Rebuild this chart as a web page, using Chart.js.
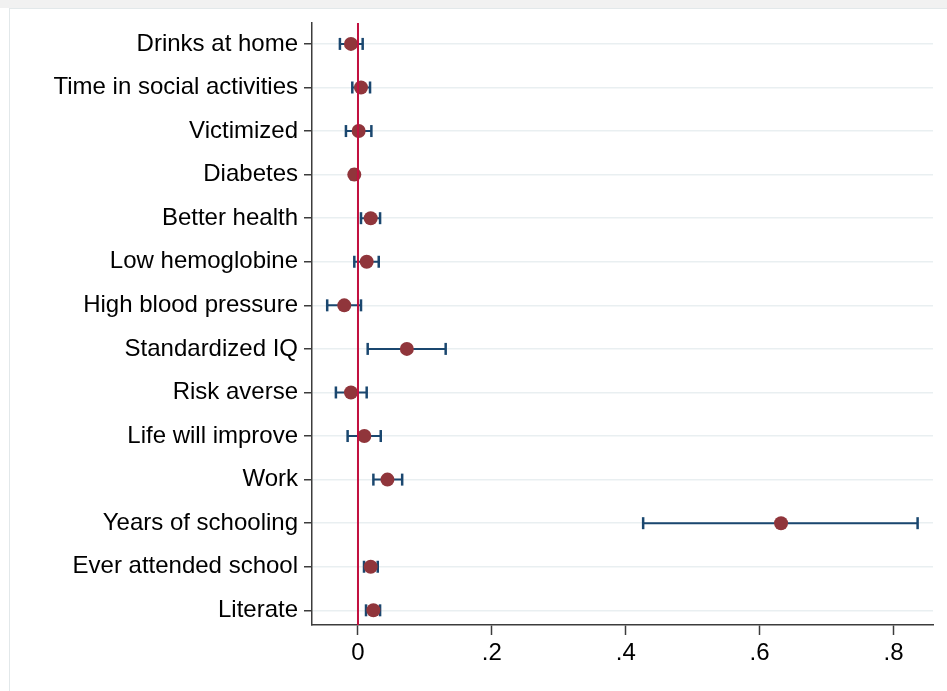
<!DOCTYPE html>
<html>
<head>
<meta charset="utf-8">
<script src="https://cdn.jsdelivr.net/npm/chart.js@4.4.1/dist/chart.umd.min.js"></script>
<style>
  html, body { margin: 0; padding: 0; background: #fff; }
  body { width: 947px; height: 691px; position: relative; overflow: hidden; }
  #strip { position: absolute; left: 0; top: 0; width: 947px; height: 8px; background: #f1f1f1; }
  #frame { position: absolute; left: 9px; top: 8px; width: 960px; height: 700px; border: 1px solid #e2e8ea; box-sizing: border-box; }
  #wrap { position: absolute; left: 0; top: 0; width: 947px; height: 691px; }
</style>
</head>
<body>
<div id="strip"></div>
<div id="frame"></div>
<div id="wrap"><canvas id="coefChart"></canvas></div>
<script>
// outcomes, top to bottom
const outcomes = [
  'Drinks at home', 'Time in social activities', 'Victimized', 'Diabetes',
  'Better health', 'Low hemoglobine', 'High blood pressure', 'Standardized IQ',
  'Risk averse', 'Life will improve', 'Work', 'Years of schooling',
  'Ever attended school', 'Literate'
];
// point estimates and 95% confidence bounds
const estimates = [-0.0105, 0.0045, 0.001, -0.0055, 0.019, 0.013, -0.0205, 0.073, -0.0105, 0.0095, 0.044, 0.632, 0.019, 0.023];
const lower     = [-0.027, -0.0085, -0.018, -0.010, 0.0045, -0.0055, -0.046, 0.0145, -0.033, -0.0155, 0.023, 0.426, 0.009, 0.012];
const upper     = [0.007, 0.018, 0.020, -0.001, 0.033, 0.031, 0.0045, 0.131, 0.013, 0.034, 0.066, 0.836, 0.0295, 0.033];
const xTicks = [0, 0.2, 0.4, 0.6, 0.8];

const xMin = -0.0687, xMax = 0.859;
const yMin = -0.48, yMax = 13.337;

const navy = '#1a476f';
const maroon = '#90353b';
const axisColor = '#3c3c3c';
const font = { family: 'Liberation Sans, Arial, sans-serif', size: 24 };

// CI segments, broken by a gap point after each row
const ciPoints = [];
outcomes.forEach((_, i) => {
  ciPoints.push({ x: lower[i], y: i }, { x: upper[i], y: i }, { x: null, y: null });
});

new Chart(document.getElementById('coefChart'), {
  type: 'scatter',
  data: {
    datasets: [
      {
        label: '95% CI',
        data: ciPoints,
        showLine: true,
        borderColor: navy,
        borderWidth: 2,
        pointStyle: 'line',
        rotation: 90,
        pointRadius: 6,
        pointBorderWidth: 2.5,
        pointBorderColor: navy,
        order: 3
      },
      {
        label: 'Estimate',
        data: outcomes.map((_, i) => ({ x: estimates[i], y: i })),
        backgroundColor: maroon,
        borderColor: maroon,
        pointRadius: 7,
        pointBorderWidth: 0,
        order: 2
      },
      {
        label: 'zero',
        data: [{ x: 0, y: yMin }, { x: 0, y: yMax }],
        showLine: true,
        borderColor: '#c2103f',
        borderWidth: 2,
        pointRadius: 0,
        order: 1
      }
    ]
  },
  options: {
    responsive: true,
    maintainAspectRatio: false,
    animation: false,
    layout: { padding: { left: 10, top: 23, right: 14, bottom: 10 } },
    scales: {
      x: {
        type: 'linear',
        min: xMin,
        max: xMax,
        afterBuildTicks: axis => { axis.ticks = xTicks.map(v => ({ value: v })); },
        afterFit: scale => { scale.height = 56; },
        ticks: {
          font: font,
          color: '#000',
          padding: 4,
          maxRotation: 0,
          callback: v => v === 0 ? '0' : String(v).replace('0.', '.')
        },
        grid: { drawOnChartArea: false, drawTicks: true, tickLength: 10, tickColor: axisColor, tickWidth: 1.5 },
        border: { color: axisColor, width: 1.5 }
      },
      y: {
        type: 'linear',
        reverse: true,
        min: yMin,
        max: yMax,
        afterBuildTicks: axis => { axis.ticks = outcomes.map((_, i) => ({ value: i })); },
        afterFit: scale => { scale.width = 302; },
        ticks: {
          font: font,
          color: '#000',
          padding: 6,
          callback: v => outcomes[v]
        },
        grid: { color: '#e9eff1', lineWidth: 1.5, tickLength: 8, tickColor: axisColor, tickWidth: 1.5 },
        border: { color: axisColor, width: 1.5 }
      }
    },
    plugins: {
      legend: { display: false },
      tooltip: { enabled: false }
    }
  }
});
</script>
</body>
</html>
